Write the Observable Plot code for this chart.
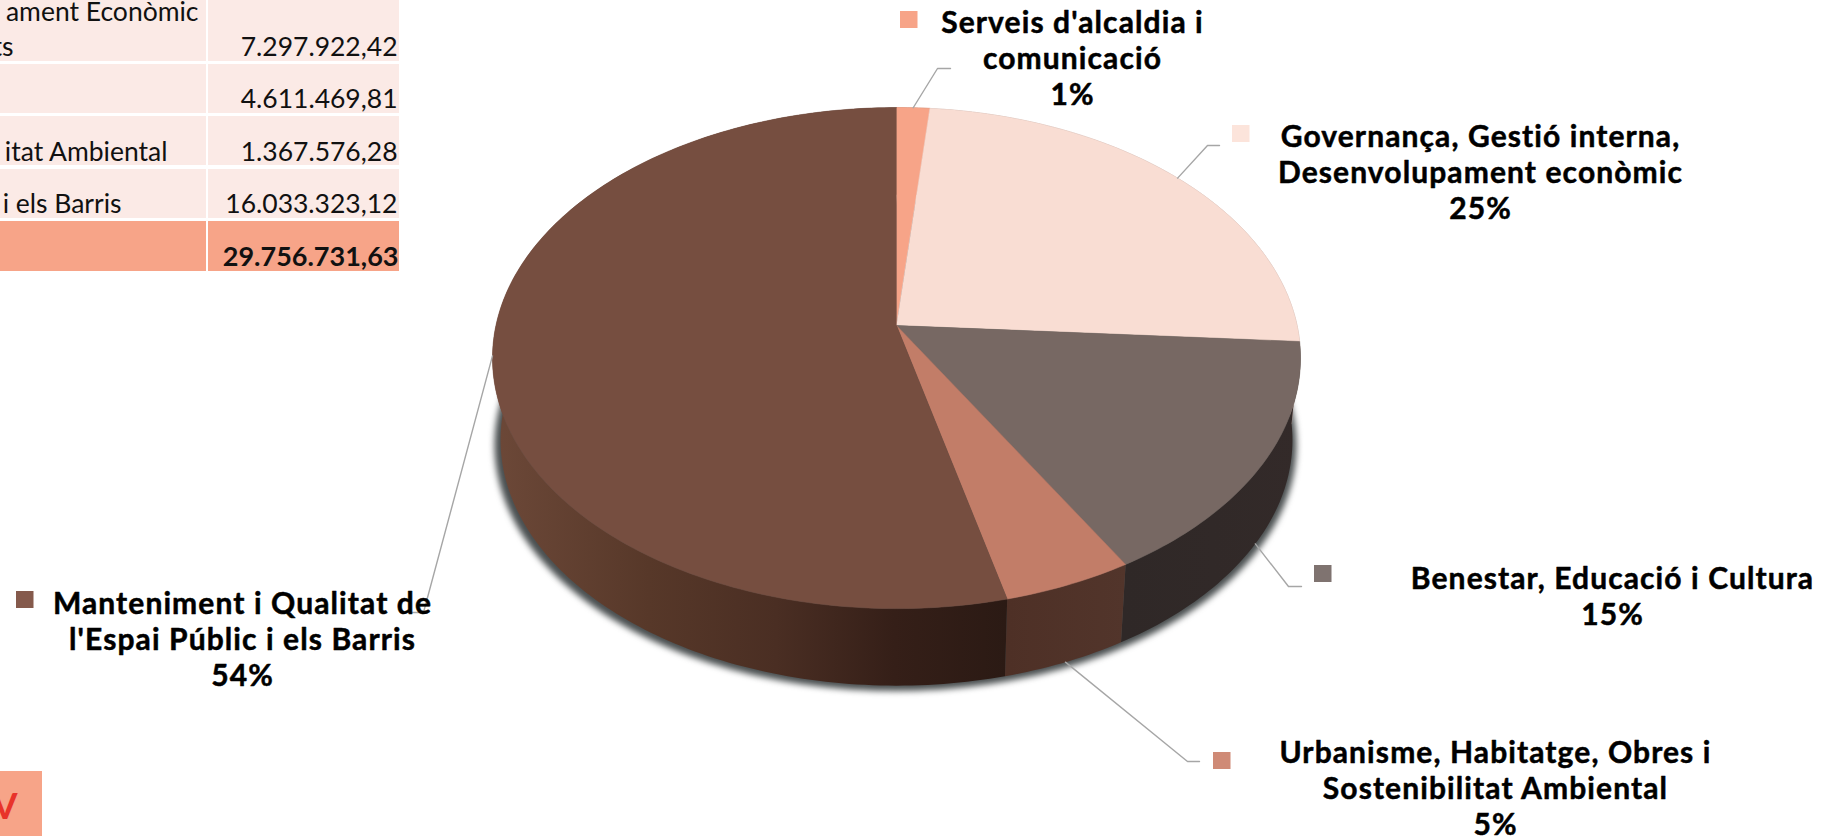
<!DOCTYPE html>
<html>
<head>
<meta charset="utf-8">
<style>
html,body{margin:0;padding:0;background:#fff;overflow:hidden}
svg{display:block}
.lbl text{letter-spacing:1.1px}
</style>
<script src="https://cdn.jsdelivr.net/npm/d3@7"></script>
<script src="https://cdn.jsdelivr.net/npm/@observablehq/plot@0.6"></script>
</head>
<body>
<script>
// ---- chart values
const categories = [
  "Serveis d'alcaldia i\ncomunicació",
  "Governança, Gestió interna,\nDesenvolupament econòmic",
  "Benestar, Educació i Cultura",
  "Urbanisme, Habitatge, Obres i\nSostenibilitat Ambiental",
  "Manteniment i Qualitat de\nl'Espai Públic i els Barris"
];
const amounts = [446440.00, 7297922.42, 4611469.81, 1367576.28, 16033323.12];
const percents = [1, 25, 15, 5, 54];
const tableTotal = 29756731.63;
const tableRowText = [["ament Econòmic", "ts"], [], ["itat Ambiental"], ["i els Barris"], []];
const cutText = "V";

// ---- styles
const topColors = ["#F7A488", "#F9DDD3", "#776863", "#C27D68", "#764E40"];
const swatchColors = ["#F7A488", "#FCE4DB", "#7F7370", "#CF8A76", "#855A4C"];
const sideColors = ["#B87A64", "#B8A39C", "url(#sideBen)", "url(#sideUrb)", "url(#sideMan)"];
const labelAnchors = [[1072,104],[1480,218],[1612,624],[1495,834],[242,685]];
const swatchBoxes = [[900,11],[1232,125],[1314,565],[1213,752],[16,591]];
const elbows = [[937,68,950],[1207,145,1219],[1288,586,1301],[1187,761,1199],[423,612,408]];
const onBottomRim = [false,false,true,true,false];

// ---- perspective of the disc
const cx = 896, cy = 325, ax = 400.6, ay = 246.3, k = 0.13, shrink = 0.98, drop = 82.7;
function rim(deg, low) {
  const t = deg * Math.PI / 180, u = Math.sin(t), v = -Math.cos(t), w = 1 - k * v;
  const x = ax * u / w, y = ay * v / w;
  return low ? [cx + shrink * x, cy + drop + shrink * y] : [cx + x, cy + y];
}
const total = d3.sum(amounts);
const cum = d3.cumsum(amounts);
const startDeg = amounts.map((d, i) => (i ? cum[i - 1] : 0) / total * 360);
const endDeg = cum.map(d => d / total * 360);
const arc = (a, b, low) => { const n = Math.max(2, Math.ceil(b - a)); return d3.range(n + 1).map(i => rim(a + (b - a) * i / n, low)); };

const slices = amounts.map((d, i) => ({
  top: [[cx, cy], ...arc(startDeg[i], endDeg[i], false)],
  side: [...arc(startDeg[i], endDeg[i], false), ...arc(startDeg[i], endDeg[i], true).reverse()],
  mid: (startDeg[i] + endDeg[i]) / 2
}));
const shadowPts = arc(0, 360, true).map(p => [cx + (p[0] - cx) * 1.012 - 1, p[1] + 5]);

const px = d => d[0], py = d => d[1];
const poly = (pts, fill, extra = {}) => Plot.line(pts, {x: px, y: py, fill, stroke: fill.startsWith("url") ? "none" : fill, strokeWidth: 0.5, curve: "linear", ...extra});

// ---- gradients
const defs = () => {
  const svg = d3.create("svg:g");
  const d = svg.append("defs");
  const grad = (id, x1, x2, stops) => {
    const g = d.append("linearGradient").attr("id", id).attr("gradientUnits", "userSpaceOnUse")
      .attr("x1", x1).attr("x2", x2).attr("y1", 0).attr("y2", 0);
    stops.forEach(([o, c]) => g.append("stop").attr("offset", o).attr("stop-color", c));
  };
  grad("sideMan", 495, 1006, [[0, "#6C4838"], [0.3, "#573829"], [0.55, "#4A2E23"], [0.78, "#351F18"], [1, "#2B1A14"]]);
  grad("sideUrb", 1006, 1125, [[0, "#4E3026"], [1, "#52352B"]]);
  grad("sideBen", 1125, 1299, [[0, "#2F2827"], [1, "#332A29"]]);
  return svg.node();
};

// ---- table layout
const fmt = d3.formatLocale({decimal: ",", thousands: ".", grouping: [3], currency: ["", ""]}).format(",.2f");
const rowBands = [[0,61],[64,113],[116,165],[169,218],[221,271]];
const colBands = [[0,206],[208,399]];
const cells = rowBands.flatMap((r, i) => colBands.map(c => ({x1: c[0], x2: c[1], y1: r[0], y2: r[1], fill: i === 4 ? "#F7A488" : "#FBEAE6"})));
const tableValues = [amounts[1], amounts[2], amounts[3], amounts[4]];
const valueBaselines = [55, 107, 160, 212, 265];
const tableTexts = [
  {t: tableRowText[0][0], x: 198, y: 20}, {t: tableRowText[0][1], x: 13, y: 55},
  {t: tableRowText[2][0], x: 167, y: 160}, {t: tableRowText[3][0], x: 121, y: 212}
];

const leaders = slices.map((s, i) => [rim(s.mid, onBottomRim[i]), [elbows[i][0], elbows[i][1]], [elbows[i][2], elbows[i][1]]]);

const plot = Plot.plot({
  width: 1837, height: 836, margin: 0,
  x: {domain: [0, 1837], range: [0, 1837], axis: null},
  y: {domain: [0, 836], range: [0, 836], axis: null},
  style: {background: "#fff"},
  marks: [
    defs,
    // table
    Plot.rect(cells, {x1: "x1", x2: "x2", y1: "y1", y2: "y2", fill: "fill"}),
    Plot.text(tableTexts, {x: "x", y: "y", text: "t", textAnchor: "end", lineAnchor: "bottom", fontFamily: "Lato", fontSize: 26.5, fill: "#111"}),
    Plot.text(tableValues, {x: () => 397, y: (d, i) => valueBaselines[i], text: d => fmt(d), textAnchor: "end", lineAnchor: "bottom", fontFamily: "Lato", fontSize: 26.5, fill: "#111"}),
    Plot.text([tableTotal], {x: () => 398, y: () => valueBaselines[4], text: d => fmt(d), textAnchor: "end", lineAnchor: "bottom", fontFamily: "Lato", fontSize: 27, fontWeight: 700, fill: "#111"}),
    // cut box
    Plot.rect([cutText], {x1: () => 0, x2: () => 42, y1: () => 771, y2: () => 836, fill: "#F7A488"}),
    Plot.text([cutText], {x: () => 17, y: () => 818, text: d => d, textAnchor: "end", lineAnchor: "bottom", fontFamily: "Lato", fontSize: 36, fontWeight: 700, fill: "#E8332A"}),
    // disc
    poly(shadowPts, "#4a4f50", {imageFilter: "blur(3px)"}),
    ...slices.map((s, i) => poly(s.side, sideColors[i])),
    ...slices.map((s, i) => poly(s.top, topColors[i])),
    // leaders
    ...leaders.map(l => Plot.line(l, {x: px, y: py, stroke: "#A6A6A6", strokeWidth: 1.4, curve: "linear"})),
    // swatches
    Plot.rect(swatchColors, {x1: (d, i) => swatchBoxes[i][0], x2: (d, i) => swatchBoxes[i][0] + 17.5, y1: (d, i) => swatchBoxes[i][1], y2: (d, i) => swatchBoxes[i][1] + 17, fill: d => d}),
    // labels
    Plot.text(categories, {
      x: (d, i) => labelAnchors[i][0], y: (d, i) => labelAnchors[i][1],
      text: (d, i) => d + "\n" + percents[i] + "%",
      textAnchor: "middle", lineAnchor: "bottom", lineHeight: 36 / 30,
      fontFamily: "Lato", fontSize: 30, fontWeight: 700, fill: "#000", stroke: "#000", strokeWidth: 0.5, className: "lbl"
    })
  ]
});
document.body.appendChild(plot);
</script>
</body>
</html>
